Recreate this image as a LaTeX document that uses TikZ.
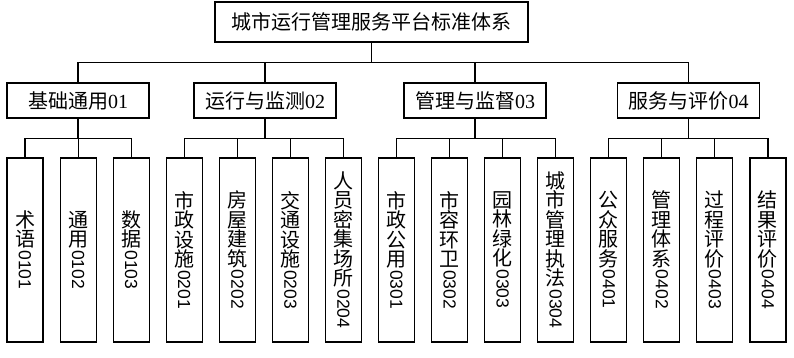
\documentclass[tikz,border=0pt]{standalone}
\usepackage{fontspec}
\usepackage{graphicx}
\usetikzlibrary{positioning}
\newfontfamily\cjk{Noto Sans CJK SC}
\newfontfamily\numsans{Liberation Sans}
\newfontfamily\numserif{Liberation Serif}
% vertical label: stacked characters, code turned clockwise
\newcommand{\vlabel}[2]{#1\\\raisebox{16pt}{\rotatebox{-90}{\numsans\fontsize{17.5}{18}\selectfont #2}}}

\begin{document}
\begin{tikzpicture}[x=1pt, y=-1pt, line width=1.1pt,
    topbox/.style={draw, inner sep=0pt, minimum width=313pt, minimum height=40pt,
        font=\cjk\fontsize{20}{24}\selectfont},
    groupbox/.style={draw, inner sep=0pt, minimum width=142pt, minimum height=35pt,
        font=\cjk\fontsize{20}{24}\selectfont},
    leafbox/.style={draw, inner sep=0pt, minimum width=36pt, minimum height=184pt,
        align=center, font=\cjk\fontsize{20}{19.5}\selectfont},
    tree/.style={to path={(\tikztostart) -- ++(0,20) -| (\tikztotarget)}}]
    \useasboundingbox (0,0) rectangle (794,357);
    % root
    \node[topbox] (root) at (371.5,22) {城市运行管理服务平台标准体系};
    % second level
    \node[groupbox] (g1) at (78,100.5) {基础通用\numserif 01};
    \node[groupbox] (g2) at (265,100.5) {运行与监测\numserif 02};
    \node[groupbox] (g3) at (475,100.5) {管理与监督\numserif 03};
    \node[groupbox] (g4) at (688.5,100.5) {服务与评价\numserif 04};
    % leaves
    \foreach \t/\n [count=\i] in {
        {术\\语}/0101, {通\\用}/0102, {数\\据}/0103,
        {市\\政\\设\\施}/0201, {房\\屋\\建\\筑}/0202, {交\\通\\设\\施}/0203,
        {人\\员\\密\\集\\场\\所}/0204,
        {市\\政\\公\\用}/0301, {市\\容\\环\\卫}/0302, {园\\林\\绿\\化}/0303,
        {城\\市\\管\\理\\执\\法}/0304,
        {公\\众\\服\\务}/0401, {管\\理\\体\\系}/0402, {过\\程\\评\\价}/0403,
        {结\\果\\评\\价}/0404}
        \node[leafbox] (l\i) at ({25+53.07*(\i-1)},250) {\vlabel{\t}{\n}};
    % connectors
    \foreach \g in {1,...,4}
        \draw (root.south) to[tree] (g\g.north);
    \foreach \l in {1,2,3}
        \draw (g1.south) to[tree] (l\l.north);
    \foreach \l in {4,...,7}
        \draw (g2.south) to[tree] (l\l.north);
    \foreach \l in {8,...,11}
        \draw (g3.south) to[tree] (l\l.north);
    \foreach \l in {12,...,15}
        \draw (g4.south) to[tree] (l\l.north);
\end{tikzpicture}
\end{document}
